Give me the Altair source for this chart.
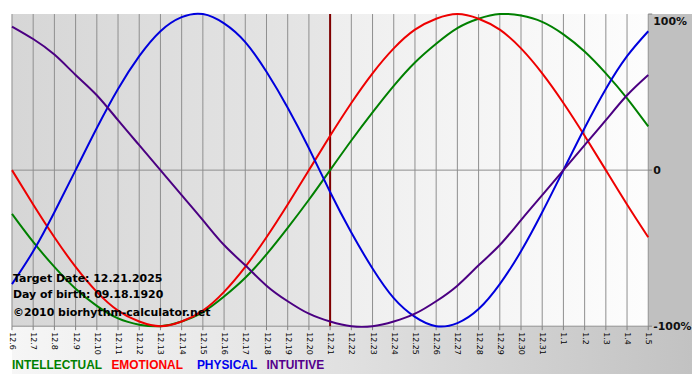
import altair as alt
import pandas as pd

# ---- data ----
dates = ["12.6", "12.7", "12.8", "12.9", "12.10", "12.11", "12.12", "12.13", "12.14",
         "12.15", "12.16", "12.17", "12.18", "12.19", "12.20", "12.21", "12.22", "12.23",
         "12.24", "12.25", "12.26", "12.27", "12.28", "12.29", "12.30", "12.31",
         "1.1", "1.2", "1.3", "1.4", "1.5"]

intellectual = [-0.28, -0.46, -0.62, -0.76, -0.87, -0.95, -0.99, -1.00, -0.97, -0.91,
                -0.81, -0.69, -0.54, -0.37, -0.19, 0.00, 0.19, 0.37, 0.54, 0.69,
                0.81, 0.91, 0.97, 1.00, 0.99, 0.95, 0.87, 0.76, 0.62, 0.46, 0.28]
emotional = [0.00, -0.22, -0.43, -0.62, -0.78, -0.90, -0.97, -1.00, -0.97, -0.90,
             -0.78, -0.62, -0.43, -0.22, 0.00, 0.22, 0.43, 0.62, 0.78, 0.90,
             0.97, 1.00, 0.97, 0.90, 0.78, 0.62, 0.43, 0.22, 0.00, -0.22, -0.43]
physical = [-0.73, -0.52, -0.27, 0.00, 0.27, 0.52, 0.73, 0.89, 0.98, 1.00,
            0.94, 0.82, 0.63, 0.40, 0.14, -0.14, -0.40, -0.63, -0.82, -0.94,
            -1.00, -0.98, -0.89, -0.73, -0.52, -0.27, 0.00, 0.27, 0.52, 0.73, 0.89]
intuitive = [0.92, 0.84, 0.74, 0.61, 0.48, 0.32, 0.16, 0.00, -0.16, -0.32,
             -0.48, -0.61, -0.74, -0.84, -0.92, -0.97, -1.00, -1.00, -0.97, -0.92,
             -0.84, -0.74, -0.61, -0.48, -0.32, -0.16, 0.00, 0.16, 0.32, 0.48, 0.61]

series_names = ["INTELLECTUAL", "EMOTIONAL", "PHYSICAL", "INTUITIVE"]
line_colors = ["#008000", "#ee0000", "#0000dd", "#4b0082"]
legend_colors = ["#008000", "#ff0000", "#0000ee", "#55008c"]

target_label = "12.21"
info_lines = ["Target Date: 12.21.2025", "Day of birth: 09.18.1920", "\u00a92010 biorhythm-calculator.net"]
y_values = [1, 0, -1]
y_labels = ["100%", "0", "-100%"]

# ---- layout ----
W, H = 640, 314
RM = 44   # right margin
BM = 48   # bottom strip

n = len(dates)
ti = dates.index(target_label)

rows = []
for name, vals in zip(series_names, [intellectual, emotional, physical, intuitive]):
    for i, v in enumerate(vals):
        rows.append({"series": name, "idx": i, "value": v})
df = pd.DataFrame(rows)
days = pd.DataFrame({"idx": list(range(n)), "label": dates})
ydf = pd.DataFrame({"v": y_values, "t": y_labels})

xscale = alt.Scale(domain=[0, n - 1], nice=False, zero=False)
yscale = alt.Scale(domain=[-1, 1], nice=False, zero=False)

one = pd.DataFrame({"a": [0]})


def grad(c0, c1, mid=None):
    stops = [alt.GradientStop(color=c0, offset=0)]
    if mid is not None:
        stops.append(alt.GradientStop(color=mid, offset=0.5))
    stops.append(alt.GradientStop(color=c1, offset=1))
    return alt.LinearGradient(gradient="linear", stops=stops, x1=0, x2=1, y1=0, y2=0)


X = lambda f: alt.X(f, scale=xscale, axis=None)
Y = lambda f: alt.Y(f, scale=yscale, axis=None)

right_margin = alt.Chart(one).mark_rect(fill="#c0c0c0").encode(
    x=alt.value(W), x2=alt.value(W + RM), y=alt.value(0), y2=alt.value(H))
bottom_strip = alt.Chart(one).mark_rect(fill=grad("#f6f6f6", "#c2c2c2", "#e0e0e0")).encode(
    x=alt.value(0), x2=alt.value(W + RM), y=alt.value(H), y2=alt.value(H + BM))

left_bg = alt.Chart(pd.DataFrame({"x0": [0], "x1": [ti]})).mark_rect(
    fill=grad("#d6d6d6", "#e6e6e6")).encode(
    x=X("x0:Q"), x2="x1:Q", y=alt.value(0), y2=alt.value(H))
right_bg = alt.Chart(pd.DataFrame({"x0": [ti], "x1": [n - 1]})).mark_rect(
    fill=grad("#eeeeee", "#fdfdfd")).encode(
    x=X("x0:Q"), x2="x1:Q", y=alt.value(0), y2=alt.value(H))

grid = alt.Chart(days).mark_rule(color="#8e8e8e", strokeWidth=1).encode(x=X("idx:Q"))
hlines = alt.Chart(ydf).transform_filter("datum.v <= 0").mark_rule(
    color="#8e8e8e", strokeWidth=1).encode(y=Y("v:Q"))
target = alt.Chart(pd.DataFrame({"idx": [ti]})).mark_rule(color="#800000", strokeWidth=2).encode(
    x=X("idx:Q"))

# ticks and labels on the x axis
xticks = alt.Chart(days).mark_rule(color="#808080", strokeWidth=1).encode(
    x=X("idx:Q"), y=alt.value(H), y2=alt.value(H + 4))
xlabels = alt.Chart(days).mark_text(
    angle=90, align="left", baseline="middle", font="DejaVu Sans", fontSize=8,
    color="#000000").encode(x=X("idx:Q"), y=alt.value(H + 6), text="label:N")

# ticks and labels on the right axis
yticks = alt.Chart(ydf).mark_rule(color="#808080", strokeWidth=1).encode(
    y=Y("v:Q"), x=alt.value(W), x2=alt.value(W + 4))
ylab_top = alt.Chart(ydf).transform_filter("datum.v == 1").mark_text(
    align="left", baseline="top", font="DejaVu Sans", fontWeight="bold", fontSize=11,
    color="#111111", dy=2).encode(x=alt.value(W + 5), y=Y("v:Q"), text="t:N")
ylab_rest = alt.Chart(ydf).transform_filter("datum.v != 1").mark_text(
    align="left", baseline="middle", font="DejaVu Sans", fontWeight="bold", fontSize=11,
    color="#111111", dy=1).encode(x=alt.value(W + 5), y=Y("v:Q"), text="t:N")

lines = alt.Chart(df).mark_line(strokeWidth=2, interpolate="natural").encode(
    x=X("idx:Q"),
    y=Y("value:Q"),
    color=alt.Color("series:N", scale=alt.Scale(domain=series_names, range=line_colors), legend=None),
    detail="series:N",
)

info_layers = []
for txt, yy in zip(info_lines, [270, 286, 304]):
    info_layers.append(
        alt.Chart(pd.DataFrame({"t": [txt]})).mark_text(
            align="left", baseline="alphabetic", font="DejaVu Sans", fontWeight="bold",
            fontSize=11, color="#000000").encode(
            x=alt.value(1), y=alt.value(yy), text="t:N"))

legend_layers = []
for name, col, xx in zip(series_names, legend_colors, [0, 100, 186, 256]):
    legend_layers.append(
        alt.Chart(pd.DataFrame({"t": [name]})).mark_text(
            align="left", baseline="middle", font="Liberation Sans", fontWeight="bold",
            fontSize=12, color=col).encode(
            x=alt.value(xx), y=alt.value(H + 39), text="t:N"))

chart = alt.layer(
    right_margin, bottom_strip, left_bg, right_bg, grid, hlines, target,
    xticks, xlabels, yticks, lines, ylab_top, ylab_rest, *info_layers, *legend_layers
).properties(width=W, height=H, padding=0, background="white").configure_view(strokeWidth=0)

chart.save("out.html", embed_options={"renderer": "svg", "actions": False})
